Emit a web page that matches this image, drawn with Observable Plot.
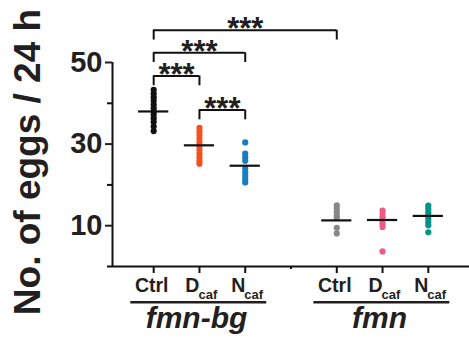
<!DOCTYPE html>
<html>
<head>
<meta charset="utf-8">
<script src="https://cdn.jsdelivr.net/npm/d3@7"></script>
<script src="https://cdn.jsdelivr.net/npm/@observablehq/plot@0.6"></script>
<style>
  html, body { margin: 0; padding: 0; background: #fff; }
  svg { display: block; }
</style>
</head>
<body>
<div id="chart"></div>
<script>
// ---- data ----
const groups = ["fmn-bg", "fmn"];
const conditions = ["Ctrl", "D", "N"];
const conditionSubs = ["", "caf", "caf"];

const fmnbgCtrl = [43.3, 42.4, 41.5, 40.6, 39.7, 38.8, 37.9, 37.2, 36.3, 35.4, 34.3, 33.2];
const fmnbgDcaf = [34.0, 33.1, 32.2, 31.3, 30.4, 29.5, 28.6, 27.7, 26.8, 25.9, 25.2];
const fmnbgNcaf = [30.4, 27.7, 26.8, 25.9, 24.0, 23.1, 22.2, 21.3, 20.6];
const fmnCtrl   = [15.0, 14.2, 13.4, 12.6, 12.0, 9.5, 8.1];
const fmnDcaf   = [13.7, 12.9, 12.1, 11.3, 10.5, 9.7, 3.7];
const fmnNcaf   = [14.9, 14.1, 13.3, 12.5, 11.7, 10.9, 10.1, 8.4];
const means     = [38.0, 29.7, 24.7, 11.3, 11.4, 12.4];

const yTicks = [10, 30, 50];
const yMinorTicks = [0, 20, 40];

// comparisons: indices of series compared, bracket level (eggs), label
const compA = [0, 0, 0, 1];
const compB = [3, 2, 1, 2];
const compLevel = [57.9, 52.4, 46.7, 38.35];
const compLabel = ["***", "***", "***", "***"];

// ---- styles ----
const palette = ["#111111", "#f4511e", "#1a7dc4", "#878787", "#ee5a87", "#009487"];
const font = "'Liberation Sans', Arial, Helvetica, sans-serif";

// ---- derived tables ----
const seriesValues = [fmnbgCtrl, fmnbgDcaf, fmnbgNcaf, fmnCtrl, fmnDcaf, fmnNcaf];
const posOf = i => i + 1 + (i >= 3 ? 1 : 0);
const series = seriesValues.map((vals, i) => ({
  i, pos: posOf(i), group: Math.floor(i / 3),
  cond: conditions[i % 3], sub: conditionSubs[i % 3], mean: means[i]
}));
const points = seriesValues.flatMap((vals, i) => vals.map(v => ({i, pos: posOf(i), v})));
const comps = compA.map((a, k) => ({
  x1: posOf(a), x2: posOf(compB[k]), level: compLevel[k], label: compLabel[k]
}));
const drop = 2.4;
const compEnds = comps.flatMap(c => [{x: c.x1, level: c.level}, {x: c.x2, level: c.level}]);
const groupData = groups.map((g, gi) => ({
  label: g,
  center: posOf(gi * 3 + 1),
  x1: posOf(gi * 3) - 0.5,
  x2: posOf(gi * 3 + 2) + 0.47
}));

const xMin = 0.1, xMax = 7.9;

const chart = Plot.plot({
  width: 469,
  height: 343,
  marginLeft: 112,
  marginRight: 0,
  marginTop: 62,
  marginBottom: 77,
  style: {fontFamily: font, background: "#fff", color: "#111"},
  x: {domain: [xMin, xMax]},
  y: {domain: [0, 50]},
  color: {type: "ordinal", domain: d3.range(6), range: palette},
  marks: [
    // axes lines
    Plot.ruleX([xMin], {y1: 0, y2: 50, strokeWidth: 2, stroke: "#111"}),
    Plot.ruleY([0], {x1: xMin, x2: xMax, strokeWidth: 2, stroke: "#111"}),
    Plot.axisY(yTicks, {tickSize: 7, tickPadding: 3, fontSize: 29, fontWeight: "bold", strokeWidth: 2, label: null, tickFormat: d => String(d), color: "#231f20"}),
    Plot.axisY(yMinorTicks, {tickSize: 5, strokeWidth: 2, label: null, tickFormat: () => ""}),
    Plot.axisX(series.map(s => s.pos), {tickSize: 7, strokeWidth: 2, label: null, tickFormat: () => ""}),
    Plot.axisX([4], {tickSize: 3, strokeWidth: 2, label: null, tickFormat: () => ""}),
    // points
    Plot.dot(points, {x: "pos", y: "v", r: 3.1, fill: "i", stroke: null}),
    // mean lines
    Plot.ruleY(series, {y: "mean", x1: d => d.pos - 0.33, x2: d => d.pos + 0.33, strokeWidth: 2.2, stroke: "#111"}),
    // comparison brackets
    Plot.ruleY(comps, {y: "level", x1: "x1", x2: "x2", strokeWidth: 2, stroke: "#111"}),
    Plot.ruleX(compEnds, {x: "x", y1: "level", y2: d => d.level - drop, strokeWidth: 2, stroke: "#111"}),
    Plot.text(comps, {x: d => (d.x1 + d.x2) / 2, y: "level", text: "label", fontSize: 31, fontWeight: "bold", lineAnchor: "bottom", dy: 9, fill: "#231f20"}),
    // x category labels
    Plot.text(series.filter(s => !s.sub), {x: "pos", y: 0, text: "cond", dy: 25.7, dx: -2, lineAnchor: "bottom", textAnchor: "middle", fontSize: 19.5, fontWeight: "bold", fill: "#231f20"}),
    Plot.text(series.filter(s => s.sub), {x: "pos", y: 0, text: "cond", dy: 25.7, dx: 0, lineAnchor: "bottom", textAnchor: "end", fontSize: 19.5, fontWeight: "bold", fill: "#231f20"}),
    Plot.text(series.filter(s => s.sub), {x: "pos", y: 0, text: "sub", dy: 32, dx: -1, lineAnchor: "bottom", textAnchor: "start", fontSize: 13, fontWeight: "bold", fill: "#231f20"}),
    // group underline + labels
    Plot.ruleY(groupData, {y: 0, x1: "x1", x2: "x2", dy: 35.7, strokeWidth: 2.5, stroke: "#231f20"}),
    Plot.text(groupData, {x: "center", y: 0, text: "label", dy: 61, dx: -3, lineAnchor: "bottom", fontSize: 30, fontWeight: "bold", fontStyle: "italic", fill: "#231f20"}),
    // y title
    Plot.text(["No. of eggs / 24 h"], {text: d => d, frameAnchor: "left", rotate: -90, dx: -84, dy: -2.5, fontSize: 37, fontWeight: "bold", lineAnchor: "middle", textAnchor: "middle", fill: "#231f20"})
  ]
});
document.getElementById("chart").appendChild(chart);
</script>
</body>
</html>
